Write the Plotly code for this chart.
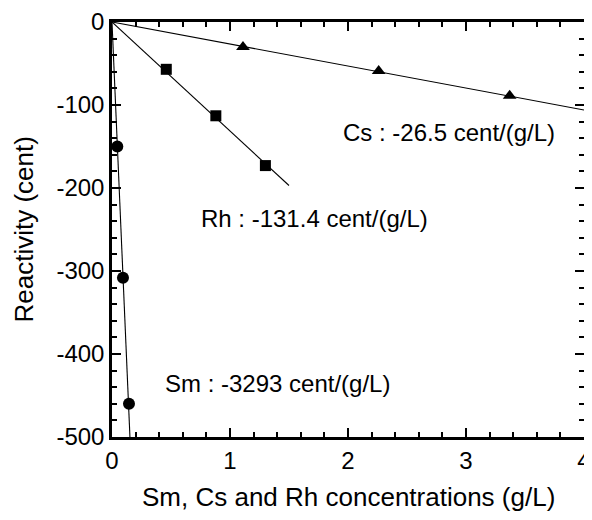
import plotly.graph_objects as go

# Measured data points
sm_x = [0.045, 0.093, 0.144]
sm_y = [-150, -308, -460]
cs_x = [1.11, 2.26, 3.37]
cs_y = [-30, -59, -89]
rh_x = [0.46, 0.88, 1.30]
rh_y = [-57, -113, -173]

# Fitted lines (endpoints)
sm_fit_x = [0, 0.152]
sm_fit_y = [0, -500]
cs_fit_x = [0, 4]
cs_fit_y = [0, -106]
rh_fit_x = [0, 1.5]
rh_fit_y = [0, -197]

x_ticks = [0, 1, 2, 3, 4]
x_tick_text = ["0", "1", "2", "3", "4"]
y_ticks = [0, -100, -200, -300, -400, -500]
y_tick_text = ["0", "-100", "-200", "-300", "-400", "-500"]

x_title = "Sm, Cs and Rh concentrations (g/L)"
y_title = "Reactivity (cent)"

labels = ["Sm : -3293 cent/(g/L)", "Cs : -26.5 cent/(g/L)", "Rh : -131.4 cent/(g/L)"]
label_x = [0.435, 1.94, 0.74]
label_y = [-436, -133, -237]

FONT = "Liberation Sans, Arial, sans-serif"
fig = go.Figure()
line_style = dict(color="black", width=1.1)
for fx, fy in [(sm_fit_x, sm_fit_y), (cs_fit_x, cs_fit_y), (rh_fit_x, rh_fit_y)]:
    fig.add_trace(go.Scatter(x=fx, y=fy, mode="lines", line=line_style,
                             showlegend=False, hoverinfo="skip", cliponaxis=True))

fig.add_trace(go.Scatter(x=sm_x, y=sm_y, mode="markers",
                         marker=dict(symbol="circle", size=12, color="black"), showlegend=False))
fig.add_trace(go.Scatter(x=cs_x, y=cs_y, mode="markers",
                         marker=dict(symbol="triangle-up", size=12, color="black"), showlegend=False))
fig.add_trace(go.Scatter(x=rh_x, y=rh_y, mode="markers",
                         marker=dict(symbol="square", size=11, color="black"), showlegend=False))

for t, x, y in zip(labels, label_x, label_y):
    fig.add_annotation(text=t, x=x, y=y, xref="x", yref="y", xanchor="left",
                       yanchor="middle", showarrow=False,
                       font=dict(family=FONT, size=24, color="black"))

# Axis titles as annotations for exact placement
fig.add_annotation(text=x_title, x=0.5, y=0, xref="paper", yref="paper",
                   xanchor="center", yanchor="middle", yshift=-60, showarrow=False,
                   font=dict(family=FONT, size=26, color="black"))
fig.add_annotation(text=y_title, x=0, y=0.5, xref="paper", yref="paper",
                   xanchor="center", yanchor="middle", xshift=-89, textangle=-90,
                   showarrow=False, font=dict(family=FONT, size=26, color="black"))

axis_common = dict(
    showgrid=False, zeroline=False, showline=True, linecolor="black", linewidth=2.5,
    mirror="ticks", ticks="inside", ticklen=9, tickwidth=2, tickcolor="black",
    tickfont=dict(family=FONT, size=24, color="black"), automargin=False,
    tickmode="array",
)
fig.update_xaxes(range=[0, 4], tickvals=x_ticks, ticktext=x_tick_text,
                 minor=dict(dtick=0.2, tick0=0, ticks="inside", ticklen=5, tickwidth=2, tickcolor="black"),
                 **axis_common)
fig.update_yaxes(range=[-500, 0], tickvals=y_ticks, ticktext=y_tick_text,
                 minor=dict(dtick=20, tick0=0, ticks="inside", ticklen=5, tickwidth=2, tickcolor="black"),
                 **axis_common)

fig.update_layout(width=584, height=512, margin=dict(l=104, r=8, t=14, b=83),
                  plot_bgcolor="white", paper_bgcolor="white",
                  font=dict(family=FONT, color="black"))

fig.write_html("out.html")
